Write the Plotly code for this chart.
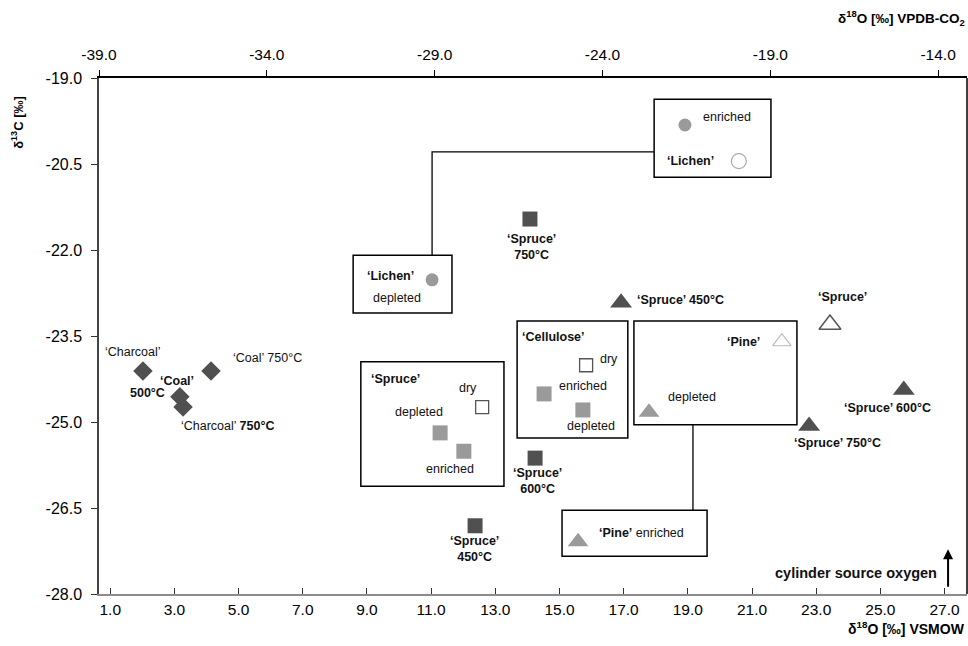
import plotly.graph_objects as go

# ---------------- data (d18O VSMOW, d13C) ----------------
diamond_names = ["Charcoal", "Coal 750°C", "Coal 500°C", "Charcoal 750°C"]
diamond_x = [2.02, 4.14, 3.17, 3.27]
diamond_y = [-24.11, -24.11, -24.56, -24.74]

dark_sq_names = ["Spruce 750°C", "Spruce 600°C", "Spruce 450°C"]
dark_sq_x = [14.08, 14.24, 12.37]
dark_sq_y = [-21.46, -25.63, -26.81]

gray_sq_names = ["Spruce depleted", "Spruce enriched", "Cellulose enriched", "Cellulose depleted"]
gray_sq_x = [11.28, 12.02, 14.52, 15.73]
gray_sq_y = [-25.19, -25.51, -24.51, -24.79]

open_sq_names = ["Spruce dry", "Cellulose dry"]
open_sq_x = [12.59, 15.83]
open_sq_y = [-24.74, -24.01]

gray_circ_names = ["Lichen enriched", "Lichen depleted"]
gray_circ_x = [18.91, 11.03]
gray_circ_y = [-19.82, -22.52]

open_circ_names = ["Lichen"]
open_circ_x = [20.59]
open_circ_y = [-20.45]

dark_tri_names = ["Spruce 450°C", "Spruce 750°C", "Spruce 600°C"]
dark_tri_x = [16.92, 22.78, 25.73]
dark_tri_y = [-22.92, -25.07, -24.44]

gray_tri_names = ["Pine depleted", "Pine enriched"]
gray_tri_x = [17.79, 15.58]
gray_tri_y = [-24.83, -27.09]

open_tri_dark_names = ["Spruce"]
open_tri_dark_x = [23.43]
open_tri_dark_y = [-23.30]

open_tri_light_names = ["Pine"]
open_tri_light_x = [21.93]
open_tri_light_y = [-23.60]

x_ticks = [1, 3, 5, 7, 9, 11, 13, 15, 17, 19, 21, 23, 25, 27]
x2_ticks = [-39, -34, -29, -24, -19, -14]
y_ticks = [-19.0, -20.5, -22.0, -23.5, -25.0, -26.5, -28.0]

# ---------------- styling ----------------
FONT = "Arial, 'Liberation Sans', sans-serif"
DARK = "#505050"
GRAY = "#9a9a9a"

fig = go.Figure()


def add(xs, ys, names, symbol, size, fill, line_color=None, line_w=0):
    fig.add_trace(go.Scatter(
        x=xs, y=ys, mode="markers", text=names, hoverinfo="text+x+y",
        marker=dict(symbol=symbol, size=size, color=fill,
                    line=dict(color=line_color or fill, width=line_w)),
        showlegend=False))


add(diamond_x, diamond_y, diamond_names, "diamond", 15, DARK)
add(dark_sq_x, dark_sq_y, dark_sq_names, "square", 15, DARK)
add(gray_sq_x, gray_sq_y, gray_sq_names, "square", 15, GRAY)
add(open_sq_x, open_sq_y, open_sq_names, "square", 13, "white", "#555555", 1.3)
add(gray_circ_x, gray_circ_y, gray_circ_names, "circle", 13, GRAY)
add(open_circ_x, open_circ_y, open_circ_names, "circle", 15, "white", "#aaaaaa", 1.2)
add(dark_tri_x, dark_tri_y, dark_tri_names, "triangle-up", 19, DARK)
add(gray_tri_x, gray_tri_y, gray_tri_names, "triangle-up", 18, GRAY)
add(open_tri_dark_x, open_tri_dark_y, open_tri_dark_names, "triangle-up", 19, "white", "#555555", 1.5)
add(open_tri_light_x, open_tri_light_y, open_tri_light_names, "triangle-up", 16, "white", "#bbbbbb", 1.2)

# invisible trace for the top axis
fig.add_trace(go.Scatter(x=[-39], y=[-28], xaxis="x2", mode="markers",
                         marker=dict(opacity=0), hoverinfo="skip", showlegend=False))

# ---------------- boxes & connectors ----------------
boxes = [
    (17.95, -19.37, 21.59, -20.73),   # Lichen enriched
    (8.57, -22.09, 11.65, -23.10),    # Lichen depleted
    (8.81, -23.95, 13.27, -26.12),    # Spruce
    (13.68, -23.24, 17.13, -25.28),   # Cellulose
    (17.32, -23.24, 22.40, -25.05),   # Pine
    (15.08, -26.54, 19.60, -27.34),   # Pine enriched
]
shapes = []
for x0, y0, x1, y1 in boxes:
    shapes.append(dict(type="rect", xref="x", yref="y", x0=x0, y0=y0, x1=x1, y1=y1,
                       line=dict(color="black", width=1.5), fillcolor="rgba(0,0,0,0)",
                       layer="below"))
shapes.append(dict(type="path", xref="x", yref="y",
                   path="M 17.95 -20.29 L 11.03 -20.29 L 11.03 -22.09",
                   line=dict(color="black", width=1.3)))
shapes.append(dict(type="line", xref="x", yref="y", x0=19.16, y0=-25.05, x1=19.16, y1=-26.54,
                   line=dict(color="black", width=1.3)))
# right border
shapes.append(dict(type="line", xref="paper", yref="paper", x0=1, y0=0, x1=1, y1=1,
                   line=dict(color="black", width=1.5)))

# ---------------- labels ----------------
B = lambda s: "<b>" + s + "</b>"
labels = [
    ("‘Charcoal’", 1.71, -23.78),
    ("‘Coal’ 750°C", 5.89, -23.88),
    (B("‘Coal’"), 3.08, -24.29),
    (B("500°C"), 2.15, -24.49),
    ("‘Charcoal’ " + B("750°C"), 4.64, -25.07),
    (B("‘Spruce’<br>750°C"), 14.14, -21.95),
    (B("‘Spruce’<br>600°C"), 14.30, -26.03),
    (B("‘Spruce’<br>450°C"), 12.34, -27.22),
    (B("‘Spruce’ 450°C"), 18.76, -22.87),
    (B("‘Spruce’"), 23.83, -22.82),
    (B("‘Spruce’ 600°C"), 25.21, -24.76),
    (B("‘Spruce’ 750°C"), 23.65, -25.37),
    ("enriched", 20.22, -19.68),
    (B("‘Lichen’"), 19.07, -20.45),
    (B("‘Lichen’"), 9.72, -22.45),
    ("depleted", 9.94, -22.84),
    (B("‘Spruce’"), 9.90, -24.25),
    ("dry", 12.15, -24.41),
    ("depleted", 10.62, -24.83),
    ("enriched", 11.59, -25.82),
    (B("‘Cellulose’"), 14.80, -23.52),
    ("dry", 16.54, -23.90),
    ("enriched", 15.73, -24.37),
    ("depleted", 15.98, -25.07),
    (B("‘Pine’"), 20.75, -23.60),
    ("depleted", 19.13, -24.56),
    (B("‘Pine’") + " enriched", 17.57, -26.94),
]
annotations = []
for txt, x, y in labels:
    annotations.append(dict(text=txt, x=x, y=y, xref="x", yref="y", showarrow=False,
                            xanchor="center", yanchor="middle",
                            font=dict(family=FONT, size=12.5, color="#111111")))

annotations.append(dict(text=B("cylinder source oxygen"), x=24.24, y=-27.63, xref="x", yref="y",
                        showarrow=False, font=dict(family=FONT, size=14.5, color="#111111")))
annotations.append(dict(text=" ", x=27.11, y=-27.22, ax=27.11, ay=-27.97, xref="x", yref="y",
                        axref="x", ayref="y", showarrow=True, arrowhead=2, arrowsize=1,
                        arrowwidth=2, arrowcolor="black", font=dict(size=6)))

# axis titles
annotations.append(dict(text=B("δ<sup>18</sup>O [‰] VPDB-CO<sub>2</sub>"), x=1.0, y=1.116,
                        xref="paper", yref="paper", xanchor="right", yanchor="middle",
                        showarrow=False, font=dict(family=FONT, size=13.5, color="black")))
annotations.append(dict(text=B("δ<sup>18</sup>O [‰] VSMOW"), x=1.0, y=-0.066,
                        xref="paper", yref="paper", xanchor="right", yanchor="middle",
                        showarrow=False, font=dict(family=FONT, size=14, color="black")))
annotations.append(dict(text=B("δ<sup>13</sup>C [‰]"), x=-0.0945, y=0.915, textangle=-90,
                        xref="paper", yref="paper", xanchor="center", yanchor="middle",
                        showarrow=False, font=dict(family=FONT, size=13, color="black")))

xtickfont = dict(family=FONT, size=15.5, color="black")
ytickfont = dict(family=FONT, size=16, color="black")
fig.update_layout(
    width=968, height=646,
    margin=dict(l=99, r=1, t=78, b=52),
    paper_bgcolor="white", plot_bgcolor="white",
    showlegend=False,
    shapes=shapes, annotations=annotations,
    xaxis=dict(range=[0.65, 27.7], tickvals=x_ticks, ticktext=[f"{v:.1f}" for v in x_ticks],
               showgrid=False, zeroline=False, showline=True, linecolor="#8c8c8c", linewidth=2,
               ticks="inside", ticklen=6, tickcolor="#333333", tickwidth=1.3,
               tickfont=xtickfont, ticklabelstandoff=0),
    xaxis2=dict(range=[-39, -13.14], overlaying="x", side="top", anchor="y",
                tickvals=x2_ticks, ticktext=[f"{v:.1f}" for v in x2_ticks],
                showgrid=False, zeroline=False, showline=True, linecolor="black", linewidth=1.5,
                ticks="outside", ticklen=6, tickcolor="black", tickwidth=1.3,
                tickfont=xtickfont, ticklabelstandoff=4),
    yaxis=dict(range=[-28, -19], tickvals=y_ticks, ticktext=[f"{v:.1f}" for v in y_ticks],
               showgrid=False, zeroline=False, showline=True, linecolor="#444444", linewidth=1.5,
               ticks="outside", ticklen=6, tickcolor="#333333", tickwidth=1.3,
               tickfont=ytickfont, ticklabelstandoff=6),
)

# remove the default page margin so the figure sits at the window's top-left corner
post = ("document.body.style.margin='0';document.body.style.padding='0';"
        "document.body.style.overflow='hidden';"
        "document.documentElement.style.overflow='hidden';")
fig.write_html("out.html", post_script=post, config={"displayModeBar": False})
